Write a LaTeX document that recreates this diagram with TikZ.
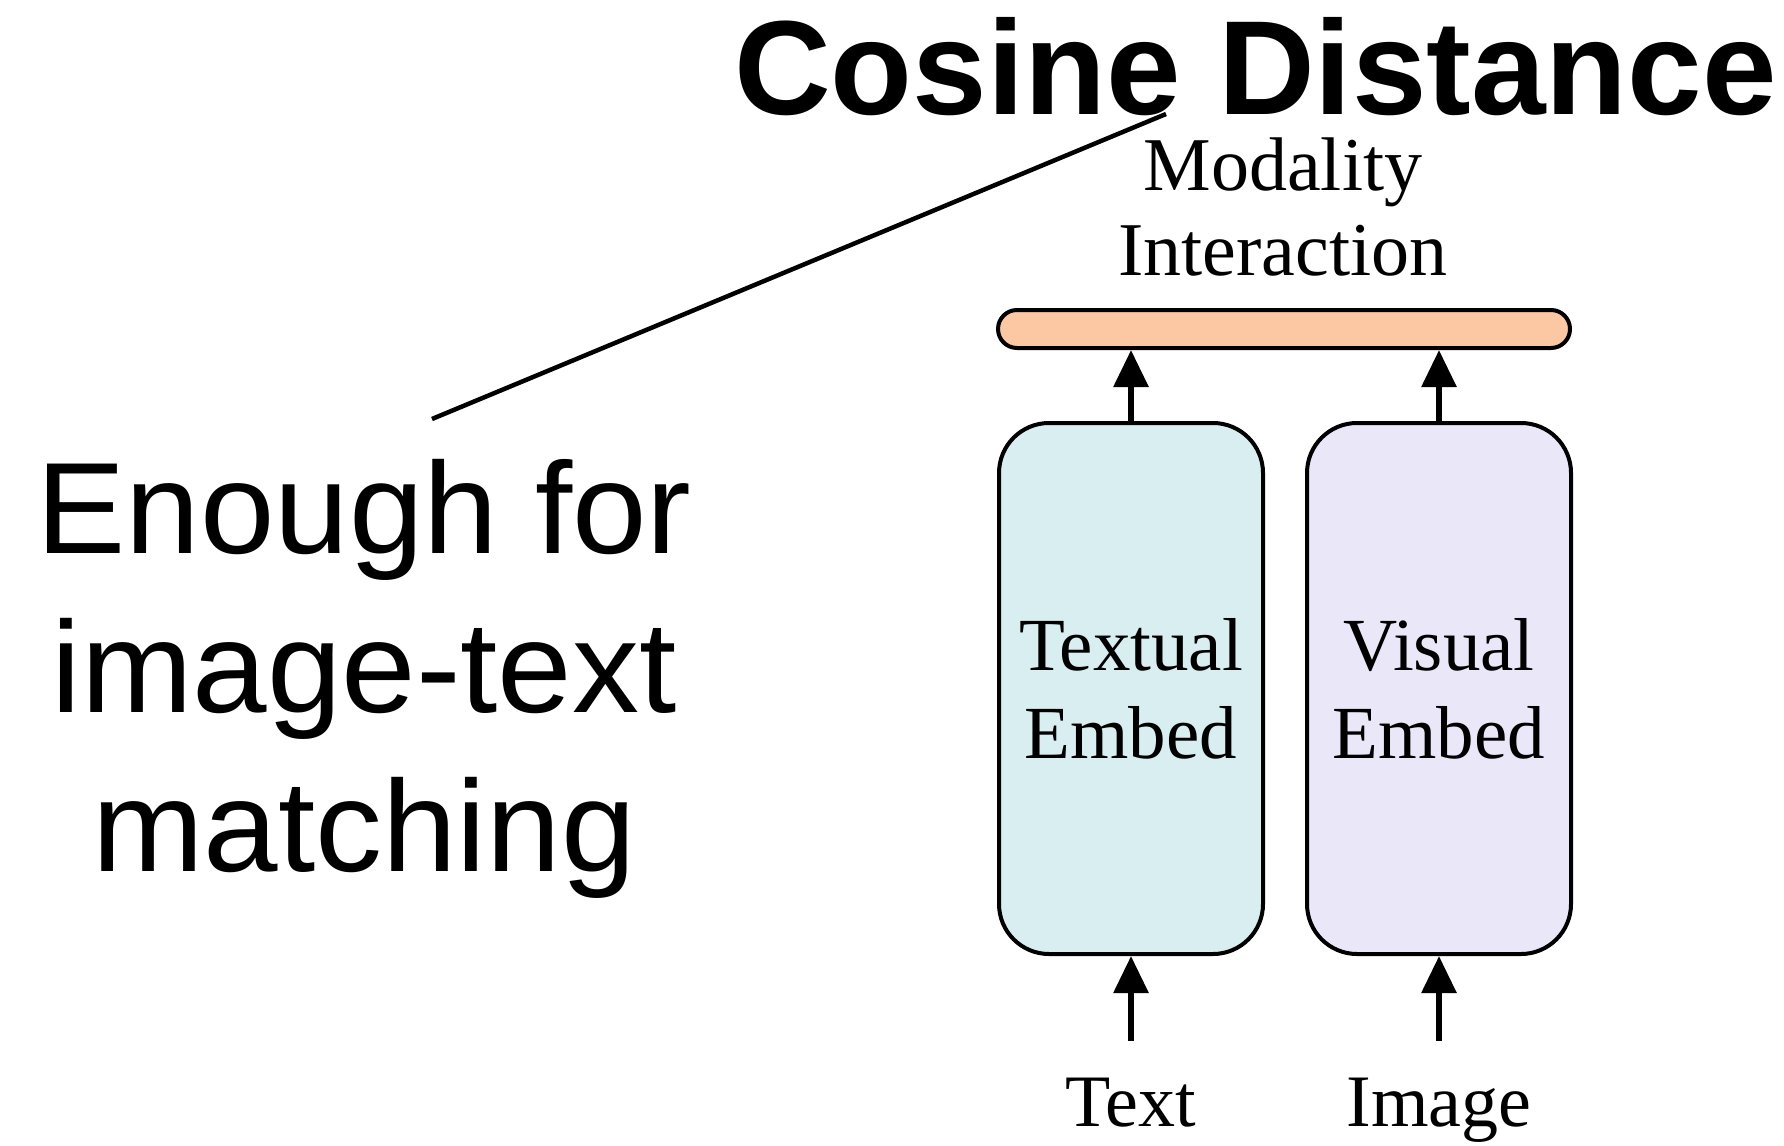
\documentclass[tikz,border=0pt]{standalone}
\usepackage{fontspec}
\setmainfont{Liberation Serif}
\newfontfamily\headfont{Liberation Sans}
\newfontfamily\notefont[FakeStretch=1.03]{Liberation Sans}
\usetikzlibrary{arrows.meta}
\definecolor{barfill}{HTML}{FCC8A3}
\definecolor{textfill}{HTML}{D9EEF0}
\definecolor{visfill}{HTML}{EAE7F8}
\begin{document}
\begin{tikzpicture}[x=1pt,y=-1pt,
  embedbox/.style={draw=black, line width=4pt, rounded corners=50pt,
    minimum width=264pt, minimum height=531pt, align=center, inner sep=0pt,
    font=\fontsize{75}{88}\selectfont},
  interbar/.style={draw=black, line width=4pt, fill=barfill, rounded corners=19pt,
    minimum width=572pt, minimum height=38pt, inner sep=0pt},
  flow/.style={line width=6pt, -{Triangle[width=34pt,length=37pt]}},
  inlabel/.style={font=\fontsize{74}{85}\selectfont, inner sep=0pt},
  pointer/.style={line width=4.5pt}]
\useasboundingbox (0,0) rectangle (1784,1145);

% title and side note
\node[anchor=base west, inner sep=0pt, font=\headfont\bfseries\fontsize{134}{150}\selectfont]
  (title) at (734,114) {Cosine Distance};
\node[inner sep=0pt, align=center, font=\notefont\fontsize{130}{159}\selectfont]
  (note) at (364,679) {Enough for\\image-text\\matching};

% model blocks
\node[interbar] (bar) at (1284,329) {};
\node[inner sep=0pt, align=center, font=\fontsize{76}{85}\selectfont]
  (mi) at (1283,207) {Modality\\Interaction};
\node[embedbox, fill=textfill] (tbox) at (1131,688.5) {Textual\\Embed};
\node[embedbox, fill=visfill] (vbox) at (1439,688.5) {Visual\\Embed};

% inputs
\node[inlabel, anchor=base] (txt) at (1131,1126) {Text};
\node[inlabel, anchor=base] (img) at (1439,1126) {Image};

% arrows
\draw[flow] (tbox.north) -- (tbox.north |- bar.south);
\draw[flow] (vbox.north) -- (vbox.north |- bar.south);
\draw[flow] (tbox.south |- 0,1041) -- (tbox.south);
\draw[flow] (vbox.south |- 0,1041) -- (vbox.south);

% pointer from the note to the title
\coordinate (pa) at (432,419);
\coordinate (pb) at (1166,114);
\draw[pointer] (pa) -- (pb);
\end{tikzpicture}
\end{document}
